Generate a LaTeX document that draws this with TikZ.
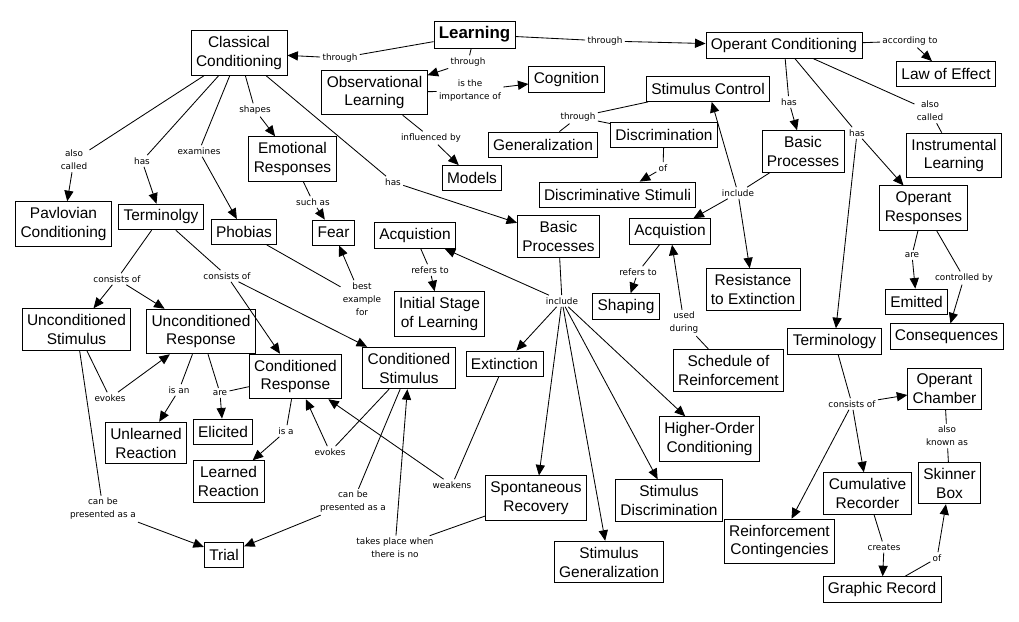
\documentclass[tikz,border=0pt]{standalone}
\usepackage{fontspec}
\setmainfont{Liberation Sans}
\newfontfamily\linkfont{DejaVu Sans}
\usepackage{tikz}
\usetikzlibrary{arrows.meta,positioning}

\begin{document}
\begin{tikzpicture}[
  x=0.025cm, y=-0.025cm,
  concept/.style={draw, line width=0.6pt, align=center, inner xsep=3.5pt, inner ysep=4pt, minimum height=0.625cm, font=\fontsize{11}{13.5}\selectfont},
  root/.style={concept, font=\bfseries\fontsize{12}{14}\selectfont},
  link/.style={align=center, inner sep=1.5pt, font=\linkfont\fontsize{6.3}{9.2}\selectfont},
  arr/.style={-{Triangle[length=7.5pt,width=6.5pt]}, line width=0.6pt},
  ln/.style={line width=0.6pt}
]
  \useasboundingbox (0,0) rectangle (1019,622);

  \node[root] (learn) at (474.5,34.5) {Learning};
  \node[concept] (cc) at (239,53) {Classical\\Conditioning};
  \node[concept] (ol) at (374.5,92.5) {Observational\\Learning};
  \node[concept] (oc) at (784,45.5) {Operant Conditioning};
  \node[concept] (cog) at (566.5,79.5) {Cognition};
  \node[concept] (models) at (472,178) {Models};
  \node[concept] (emo) at (292.5,159) {Emotional\\Responses};
  \node[concept] (pav) at (63.5,224) {Pavlovian\\Conditioning};
  \node[concept] (term1) at (161,217) {Terminolgy};
  \node[concept] (phob) at (244,232) {Phobias};
  \node[concept] (fear) at (333.5,232.5) {Fear};
  \node[concept] (acq1) at (415,235.5) {Acquistion};
  \node[concept] (init) at (439.5,314) {Initial Stage\\of Learning};
  \node[concept] (us) at (76.5,329.5) {Unconditioned\\Stimulus};
  \node[concept] (ur) at (201,331.5) {Unconditioned\\Response};
  \node[concept] (cr) at (295.5,376.5) {Conditioned\\Response};
  \node[concept] (cs) at (409,368) {Conditioned\\Stimulus};
  \node[concept] (ext) at (504.5,363.5) {Extinction};
  \node[concept] (unl) at (146,443) {Unlearned\\Reaction};
  \node[concept] (elic) at (223,431.5) {Elicited};
  \node[concept] (lr) at (228.5,481.5) {Learned\\Reaction};
  \node[concept] (trial) at (224,554.5) {Trial};
  \node[concept] (spont) at (536,498) {Spontaneous\\Recovery};
  \node[concept] (sgen) at (609,562) {Stimulus\\Generalization};
  \node[concept] (sdisc) at (669,500.5) {Stimulus\\Discrimination};
  \node[concept] (hoc) at (709.5,439) {Higher-Order\\Conditioning};
  \node[concept] (bp1) at (558.5,236.5) {Basic\\Processes};
  \node[concept] (sc) at (708,89) {Stimulus Control};
  \node[concept] (gen) at (543,144.5) {Generalization};
  \node[concept] (disc) at (664,134.5) {Discrimination};
  \node[concept] (dstim) at (617.5,194.5) {Discriminative Stimuli};
  \node[concept] (bp2) at (803,151.5) {Basic\\Processes};
  \node[concept] (acq2) at (670,231.5) {Acquistion};
  \node[concept] (shap) at (626,306.5) {Shaping};
  \node[concept] (res) at (753,289.5) {Resistance\\to Extinction};
  \node[concept] (sched) at (728.5,370.5) {Schedule of\\Reinforcement};
  \node[concept] (law) at (946,74) {Law of Effect};
  \node[concept] (instr) at (954,155.5) {Instrumental\\Learning};
  \node[concept] (oresp) at (923.5,208) {Operant\\Responses};
  \node[concept] (emit) at (916.5,301.5) {Emitted};
  \node[concept] (cons) at (946.5,336.5) {Consequences};
  \node[concept] (term2) at (834.5,341.5) {Terminology};
  \node[concept] (och) at (944.5,389) {Operant\\Chamber};
  \node[concept] (skin) at (949.5,483) {Skinner\\Box};
  \node[concept] (cumr) at (867.5,493.5) {Cumulative\\Recorder};
  \node[concept] (rcont) at (779.5,541.5) {Reinforcement\\Contingencies};
  \node[concept] (graph) at (882,589.5) {Graphic Record};

  \node[link] (thr1) at (340,58) {through};
  \node[link] (thr2) at (468,62) {through};
  \node[link] (thr3) at (605,41) {through};
  \node[link] (imp) at (470,91) {is the\\importance of};
  \node[link] (infl) at (431,138) {influenced by};
  \node[link] (call1) at (74,160) {also\\called};
  \node[link] (has1) at (142,161) {has};
  \node[link] (exam) at (199,151) {examines};
  \node[link] (shp) at (255,110) {shapes};
  \node[link] (has2) at (393,182) {has};
  \node[link] (such) at (313,202) {such as};
  \node[link] (best) at (362,299) {best\\example\\for};
  \node[link] (cons1) at (117,279) {consists of};
  \node[link] (cons2) at (227,276) {consists of};
  \node[link] (ref1) at (430,270) {refers to};
  \node[link] (inc1) at (562,301) {include};
  \node[link] (evk1) at (110,398) {evokes};
  \node[link] (isan) at (179,390) {is an};
  \node[link] (are1) at (220,393) {are};
  \node[link] (isa) at (286,431) {is a};
  \node[link] (evk2) at (330,452) {evokes};
  \node[link] (pres1) at (103,509) {can be\\presented as a};
  \node[link] (pres2) at (353,502) {can be\\presented as a};
  \node[link] (weak) at (452,485) {weakens};
  \node[link] (when) at (395,548) {takes place when\\there is no};
  \node[link] (acc) at (910,41) {according to};
  \node[link] (has3) at (789,102) {has};
  \node[link] (has4) at (857,133) {has};
  \node[link] (call2) at (930,111) {also\\called};
  \node[link] (inc2) at (738,193) {include};
  \node[link] (thr4) at (578,117) {through};
  \node[link] (of1) at (663,168) {of};
  \node[link] (ref2) at (638,272) {refers to};
  \node[link] (used) at (684,323) {used\\during};
  \node[link] (are2) at (912,255) {are};
  \node[link] (ctrl) at (964,278) {controlled by};
  \node[link] (cons3) at (852,404) {consists of};
  \node[link] (known) at (947,436) {also\\known as};
  \node[link] (creat) at (884,547) {creates};
  \node[link] (of2) at (937,558) {of};

  \draw[ln] (learn) -- (thr1); \draw[arr] (thr1) -- (cc);
  \draw[ln] (learn) -- (thr2); \draw[arr] (thr2) -- (ol);
  \draw[ln] (learn) -- (thr3); \draw[arr] (thr3) -- (oc);
  \draw[ln] (ol) -- (imp); \draw[arr] (imp) -- (cog);
  \draw[ln] (ol) -- (infl); \draw[arr] (infl) -- (models);
  \draw[ln] (cc) -- (call1); \draw[arr] (call1) -- (pav);
  \draw[ln] (cc) -- (has1); \draw[arr] (has1) -- (term1);
  \draw[ln] (cc) -- (exam); \draw[arr] (exam) -- (phob);
  \draw[ln] (cc) -- (shp); \draw[arr] (shp) -- (emo);
  \draw[ln] (cc) -- (has2); \draw[arr] (has2) -- (bp1);
  \draw[ln] (emo) -- (such); \draw[arr] (such) -- (fear);
  \draw[ln] (phob) -- (best); \draw[arr] (best) -- (fear);
  \draw[ln] (term1) -- (cons1); \draw[arr] (cons1) -- (us); \draw[arr] (cons1) -- (ur);
  \draw[ln] (term1) -- (cons2); \draw[arr] (cons2) -- (cr); \draw[arr] (cons2) -- (cs);
  \draw[ln] (acq1) -- (ref1); \draw[arr] (ref1) -- (init);
  \draw[ln] (bp1) -- (inc1);
  \foreach \t in {acq1,ext,spont,sgen,sdisc,hoc}
    \draw[arr] (inc1) -- (\t);
  \draw[ln] (us) -- (evk1); \draw[arr] (evk1) -- (ur);
  \draw[ln] (us) -- (pres1); \draw[arr] (pres1) -- (trial);
  \draw[ln] (ur) -- (isan); \draw[arr] (isan) -- (unl);
  \draw[ln] (ur) -- (are1); \draw[ln] (cr) -- (are1); \draw[arr] (are1) -- (elic);
  \draw[ln] (cr) -- (isa); \draw[arr] (isa) -- (lr);
  \draw[ln] (cs) -- (evk2); \draw[arr] (evk2) -- (cr);
  \draw[ln] (cs) -- (pres2); \draw[arr] (pres2) -- (trial);
  \draw[ln] (ext) -- (weak); \draw[arr] (weak) -- (cr);
  \draw[ln] (spont) -- (when); \draw[arr] (when) -- (cs);

  \draw[ln] (oc) -- (acc); \draw[arr] (acc) -- (law);
  \draw[ln] (oc) -- (has3); \draw[arr] (has3) -- (bp2);
  \draw[ln] (oc) -- (has4); \draw[arr] (has4) -- (oresp); \draw[arr] (has4) -- (term2);
  \draw[ln] (oc) -- (call2); \draw[ln] (call2) -- (instr);
  \draw[ln] (bp2) -- (inc2);
  \foreach \t in {acq2,res,sc}
    \draw[arr] (inc2) -- (\t);
  \draw[ln] (sc) -- (thr4); \draw[ln] (thr4) -- (gen); \draw[ln] (thr4) -- (disc);
  \draw[ln] (disc) -- (of1); \draw[arr] (of1) -- (dstim);
  \draw[ln] (acq2) -- (ref2); \draw[arr] (ref2) -- (shap);
  \draw[ln] (sched) -- (used); \draw[arr] (used) -- (acq2);
  \draw[ln] (oresp) -- (are2); \draw[arr] (are2) -- (emit);
  \draw[ln] (oresp) -- (ctrl); \draw[arr] (ctrl) -- (cons);
  \draw[ln] (term2) -- (cons3);
  \foreach \t in {och,rcont,cumr}
    \draw[arr] (cons3) -- (\t);
  \draw[ln] (och) -- (known); \draw[ln] (known) -- (skin);
  \draw[ln] (cumr) -- (creat); \draw[arr] (creat) -- (graph);
  \draw[ln] (graph) -- (of2); \draw[arr] (of2) -- (skin);
\end{tikzpicture}
\end{document}
